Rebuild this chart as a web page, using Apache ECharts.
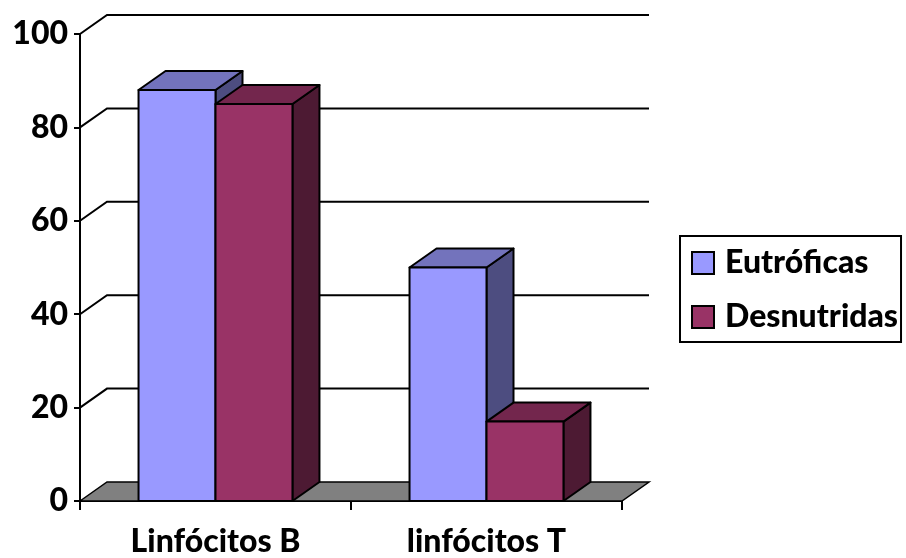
<!DOCTYPE html>
<html>
<head>
<meta charset="utf-8">
<script src="https://cdn.jsdelivr.net/npm/echarts@6/dist/echarts.min.js"></script>
<style>
  html, body { margin: 0; padding: 0; background: #fff; }
  #chart { width: 906px; height: 558px; }
</style>
</head>
<body>
<div id="chart"></div>
<script>
// Chart data
const categories = ['Linfócitos B', 'linfócitos T'];
const eutroficas = [88, 50];
const desnutridas = [85, 17];
const yTicks = [0, 20, 40, 60, 80, 100];

// Depth of the pseudo-3D projection (pixels)
const DX = 27, DY = -19;
const FONT = 'Lato, "Open Sans", sans-serif';
const FONT_SIZE = 32;
const FONT_WEIGHT = 900;

const palette = {
  'Eutróficas': { front: '#9999FF', top: '#7373BC', side: '#4D4D80' },
  'Desnutridas': { front: '#993366', top: '#73264D', side: '#4D1A33' }
};

// Back wall gridlines and floor
function renderWall(params, api) {
  const cs = params.coordSys;
  const v = api.value(1);
  const y = api.coord([0, v])[1];
  const x0 = cs.x, x1 = cs.x + cs.width;
  if (v === 0) {
    return {
      type: 'polygon',
      shape: { points: [[x0, y], [x0 + DX, y + DY], [x1 + DX, y + DY], [x1, y]] },
      style: { fill: '#808080', stroke: '#000', lineWidth: 1.5 }
    };
  }
  return {
    type: 'polyline',
    shape: { points: [[x0, y], [x0 + DX, y + DY], [x1 + DX, y + DY]] },
    style: { fill: null, stroke: '#000', lineWidth: 2 }
  };
}

// Build a 3D column renderer; side = -1 places the column left of the category centre, 0 right of it
function makeColumn(name, side) {
  const c = palette[name];
  return function (params, api) {
    const i = api.value(0);
    const v = api.value(1);
    const band = api.size([1, 0])[0];
    const w = band * 0.284;
    const center = api.coord([i, 0])[0];
    const y0 = api.coord([i, 0])[1];
    const yT = api.coord([i, v])[1];
    const xL = center + side * w;
    const xR = xL + w;
    const stroke = { stroke: '#000', lineWidth: 2, lineJoin: 'round' };
    return {
      type: 'group',
      children: [
        {
          type: 'polygon',
          shape: { points: [[xR, yT], [xR + DX, yT + DY], [xR + DX, y0 + DY], [xR, y0]] },
          style: Object.assign({ fill: c.side }, stroke)
        },
        {
          type: 'polygon',
          shape: { points: [[xL, yT], [xL + DX, yT + DY], [xR + DX, yT + DY], [xR, yT]] },
          style: Object.assign({ fill: c.top }, stroke)
        },
        {
          type: 'rect',
          shape: { x: xL, y: yT, width: w, height: y0 - yT },
          style: Object.assign({ fill: c.front }, stroke)
        }
      ]
    };
  };
}

const chart = echarts.init(document.getElementById('chart'), null, { renderer: 'canvas' });

chart.setOption({
  backgroundColor: '#fff',
  animation: false,
  textStyle: { fontFamily: FONT },
  grid: { left: 80, top: 34, width: 542, height: 469, containLabel: false },
  legend: {
    orient: 'vertical',
    left: 680,
    top: 236,
    padding: [11, 3, 9, 11],
    borderColor: '#000',
    borderWidth: 2,
    itemWidth: 22,
    itemHeight: 22,
    itemGap: 22,
    selectedMode: false,
    textStyle: { fontFamily: FONT, fontSize: FONT_SIZE, fontWeight: FONT_WEIGHT, color: '#000', padding: [0, 0, 0, 6] },
    data: [
      { name: 'Eutróficas', icon: 'rect', itemStyle: { color: palette['Eutróficas'].front, borderColor: '#000', borderWidth: 2 } },
      { name: 'Desnutridas', icon: 'rect', itemStyle: { color: palette['Desnutridas'].front, borderColor: '#000', borderWidth: 2 } }
    ]
  },
  xAxis: {
    type: 'category',
    data: categories,
    boundaryGap: true,
    axisLine: { lineStyle: { color: '#000', width: 2 } },
    axisTick: { show: true, length: 9, lineStyle: { color: '#000', width: 2 } },
    axisLabel: { fontFamily: FONT, fontSize: FONT_SIZE, fontWeight: FONT_WEIGHT, color: '#000', margin: 25 },
    splitLine: { show: false }
  },
  yAxis: {
    type: 'value',
    min: 0,
    max: 100,
    interval: 20,
    axisLine: { show: true, lineStyle: { color: '#000', width: 2 } },
    axisTick: { show: true, length: 6, lineStyle: { color: '#000', width: 2 } },
    axisLabel: { fontFamily: FONT, fontSize: FONT_SIZE, fontWeight: FONT_WEIGHT, color: '#000', margin: 12 },
    splitLine: { show: false }
  },
  series: [
    {
      name: 'wall',
      type: 'custom',
      renderItem: renderWall,
      data: yTicks.map(v => [0, v]),
      encode: { x: 0, y: 1 },
      z: 1,
      silent: true
    },
    {
      name: 'Eutróficas',
      type: 'custom',
      renderItem: makeColumn('Eutróficas', -1),
      itemStyle: { color: palette['Eutróficas'].front, borderColor: '#000', borderWidth: 2 },
      data: eutroficas.map((v, i) => [i, v]),
      encode: { x: 0, y: 1 },
      z: 3
    },
    {
      name: 'Desnutridas',
      type: 'custom',
      renderItem: makeColumn('Desnutridas', 0),
      itemStyle: { color: palette['Desnutridas'].front, borderColor: '#000', borderWidth: 2 },
      data: desnutridas.map((v, i) => [i, v]),
      encode: { x: 0, y: 1 },
      z: 4
    }
  ]
});
</script>
</body>
</html>
